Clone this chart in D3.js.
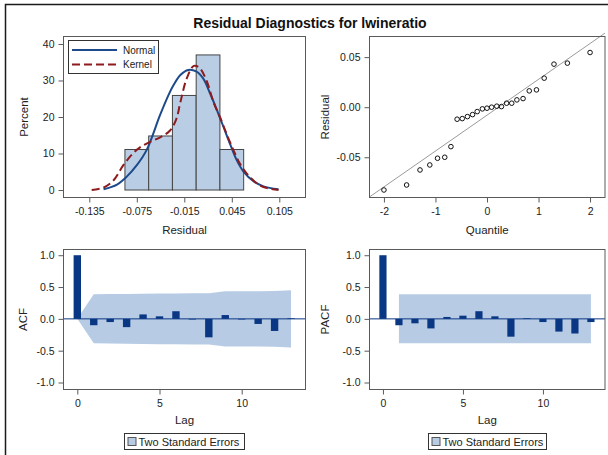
<!DOCTYPE html>
<html>
<head>
<meta charset="utf-8">
<script src="https://cdn.jsdelivr.net/npm/d3@7"></script>
<style>
  body { margin: 0; background: #fff; }
  svg { display: block; font-family: "Liberation Sans", Arial, sans-serif; }
</style>
</head>
<body>
<svg id="chart" width="608" height="455"></svg>
<script>
// ---- data ----
const histCenters = [-0.075, -0.045, -0.015, 0.015, 0.045];
const histPercent = [11.1, 14.8, 25.9, 37.0, 11.1];
const histBinWidth = 0.03;

const normalCurve = [
  [-0.117, 0.2], [-0.100, 1.5], [-0.088, 3.6], [-0.075, 6.8], [-0.0625, 11.0],
  [-0.0457, 20.5], [-0.035, 26.0], [-0.0289, 28.6], [-0.020, 31.5], [-0.010, 32.9],
  [0.000, 32.5], [0.009, 30.5], [0.0175, 26.5], [0.026, 22.0], [0.0343, 17.4],
  [0.043, 12.5], [0.0512, 8.2], [0.060, 5.0], [0.072, 2.5], [0.085, 1.0], [0.104, 0.2]
];
const kernelCurve = [
  [-0.132, 0.0], [-0.118, 0.6], [-0.105, 2.5], [-0.092, 6.8], [-0.080, 10.0],
  [-0.071, 11.7], [-0.058, 13.2], [-0.045, 14.5], [-0.033, 16.3], [-0.025, 19.5],
  [-0.020, 24.0], [-0.012, 30.5], [-0.003, 34.0], [0.004, 33.5], [0.013, 30.0],
  [0.022, 24.0], [0.030, 20.0], [0.040, 14.5], [0.047, 11.0], [0.055, 7.3],
  [0.064, 4.5], [0.080, 1.3], [0.092, 0.4], [0.104, 0.0]
];

const qqQuantiles = [
  -2.00, -1.56, -1.30, -1.11, -0.96, -0.82, -0.70, -0.58, -0.48, -0.38, -0.28, -0.19, -0.09, 0.00,
  0.09, 0.19, 0.28, 0.38, 0.48, 0.58, 0.70, 0.82, 0.96, 1.11, 1.30, 1.56, 2.00
];
const qqResiduals = [
  -0.0827, -0.0777, -0.0627, -0.0577, -0.0510, -0.0500, -0.0394, -0.0120, -0.0114, -0.0094,
  -0.0074, -0.0044, -0.0017, -0.0010, 0.0000, 0.0010, 0.0006, 0.0040, 0.0040, 0.0073,
  0.0086, 0.0163, 0.0173, 0.0290, 0.0430, 0.0440, 0.0546
];
const qqRefLine = { intercept: -0.008, slope: 0.0358 };

const lags = [0, 1, 2, 3, 4, 5, 6, 7, 8, 9, 10, 11, 12, 13];
const acfValues = [1.0, -0.10, -0.05, -0.13, 0.07, 0.04, 0.12, -0.01, -0.29, 0.06, -0.01, -0.08, -0.19, 0.01];
const acfBand = [0, 0.385, 0.389, 0.390, 0.396, 0.398, 0.399, 0.404, 0.404, 0.434, 0.435, 0.435, 0.437, 0.449];
const pacfValues = [1.0, -0.10, -0.07, -0.15, 0.03, 0.05, 0.12, 0.04, -0.28, 0.01, -0.05, -0.20, -0.23, -0.05];
const pacfBand = 0.385;

const histXTicks = [-0.135, -0.075, -0.015, 0.045, 0.105];
const histXLabels = ["-0.135", "-0.075", "-0.015", "0.045", "0.105"];
const histYTicks = [0, 10, 20, 30, 40];
const qqXTicks = [-2, -1, 0, 1, 2];
const qqYTicks = [-0.05, 0, 0.05];
const qqYLabels = ["-0.05", "0.00", "0.05"];
const corrYTicks = [-1, -0.5, 0, 0.5, 1];
const corrYLabels = ["-1.0", "-0.5", "0.0", "0.5", "1.0"];
const lagTicks = [0, 5, 10];

// ---- styling ----
const colors = {
  frame: "#5a5a5a",
  tick: "#5a5a5a",
  text: "#222",
  histFill: "#b9cde5",
  histStroke: "#454545",
  normal: "#1d4a8a",
  kernel: "#8e1b1e",
  qqLine: "#9a9a9a",
  bar: "#0a3783",
  band: "#b7cbe5"
};

const panels = {
  hist: { x0: 63.5, x1: 305.5, y0: 36.5, y1: 197.5 },
  qq: { x0: 369.5, x1: 605, y0: 36.5, y1: 197.5 },
  acf: { x0: 63.5, x1: 305.5, y0: 249.5, y1: 389.5 },
  pacf: { x0: 369.5, x1: 605, y0: 249.5, y1: 389.5 }
};

const svg = d3.select("#chart");

// outer frame (only top and left visible in the crop)
svg.append("path")
  .attr("d", "M5.5,455 V4.5 H608")
  .attr("fill", "none")
  .attr("stroke", "#1a1a1a")
  .attr("stroke-width", 1.5);

svg.append("text")
  .attr("x", 310)
  .attr("y", 28)
  .attr("text-anchor", "middle")
  .attr("font-size", 14)
  .attr("font-weight", "bold")
  .attr("fill", "#111")
  .text("Residual Diagnostics for lwineratio");

function styleAxis(g) {
  g.select(".domain").remove();
  g.selectAll(".tick line").attr("stroke", colors.tick);
  g.selectAll(".tick text").attr("fill", colors.text).attr("font-size", 10.5);
}

function drawFrame(p) {
  svg.append("rect")
    .attr("x", p.x0)
    .attr("y", p.y0)
    .attr("width", p.x1 - p.x0)
    .attr("height", p.y1 - p.y0)
    .attr("fill", "none")
    .attr("stroke", colors.frame);
}

function drawAxes(p, x, y, xt, xl, yt, yl, xTitle, yTitle, yTitleX) {
  svg.append("g")
    .attr("transform", `translate(0,${p.y1})`)
    .call(d3.axisBottom(x).tickValues(xt).tickSize(5).tickPadding(5)
      .tickFormat((d, i) => xl[i]))
    .call(styleAxis);

  svg.append("g")
    .attr("transform", `translate(${p.x0},0)`)
    .call(d3.axisLeft(y).tickValues(yt).tickSize(5).tickPadding(4)
      .tickFormat((d, i) => yl[i]))
    .call(styleAxis);

  svg.append("text")
    .attr("x", (p.x0 + p.x1) / 2)
    .attr("y", p.y1 + (xTitle === "Lag" ? 34.5 : 36))
    .attr("text-anchor", "middle")
    .attr("font-size", 11.5)
    .attr("fill", colors.text)
    .text(xTitle);

  svg.append("text")
    .attr("transform", `translate(${yTitleX},${(p.y0 + p.y1) / 2}) rotate(-90)`)
    .attr("text-anchor", "middle")
    .attr("font-size", 11.5)
    .attr("fill", colors.text)
    .text(yTitle);
}

// ---- histogram panel ----
{
  const p = panels.hist;
  const x = d3.scaleLinear().domain([-0.1676, 0.1381]).range([p.x0, p.x1]);
  const y = d3.scaleLinear().domain([-2.05, 42.05]).range([p.y1, p.y0]);

  svg.append("g")
    .selectAll("rect")
    .data(histCenters)
    .join("rect")
    .attr("x", (d) => x(d - histBinWidth / 2))
    .attr("width", (d) => x(d + histBinWidth / 2) - x(d - histBinWidth / 2))
    .attr("y", (d, i) => y(histPercent[i]))
    .attr("height", (d, i) => y(0) - y(histPercent[i]))
    .attr("fill", colors.histFill)
    .attr("stroke", colors.histStroke)
    .attr("stroke-width", 1);

  const line = d3.line()
    .x((d) => x(d[0]))
    .y((d) => y(d[1]))
    .curve(d3.curveCatmullRom);

  svg.append("path")
    .attr("d", line(normalCurve))
    .attr("fill", "none")
    .attr("stroke", colors.normal)
    .attr("stroke-width", 2);

  svg.append("path")
    .attr("d", line(kernelCurve))
    .attr("fill", "none")
    .attr("stroke", colors.kernel)
    .attr("stroke-width", 2)
    .attr("stroke-dasharray", "8,4");

  drawFrame(p);
  drawAxes(p, x, y, histXTicks, histXLabels, histYTicks, histYTicks.map(String),
    "Residual", "Percent", 28);

  // inset legend
  const lg = svg.append("g");
  lg.append("rect")
    .attr("x", 68.5).attr("y", 40.5).attr("width", 90).attr("height", 33)
    .attr("fill", "#fff").attr("stroke", "#333");
  const items = [
    { label: "Normal", color: colors.normal, dash: null, y: 50 },
    { label: "Kernel", color: colors.kernel, dash: "8,4", y: 64.5 }
  ];
  items.forEach((it) => {
    lg.append("line")
      .attr("x1", 72).attr("x2", 117).attr("y1", it.y).attr("y2", it.y)
      .attr("stroke", it.color).attr("stroke-width", 2)
      .attr("stroke-dasharray", it.dash);
    lg.append("text")
      .attr("x", 123).attr("y", it.y + 3.5)
      .attr("font-size", 10).attr("fill", colors.text)
      .text(it.label);
  });
}

// ---- QQ panel ----
{
  const p = panels.qq;
  const x = d3.scaleLinear().domain([-2.28, 2.29]).range([p.x0, p.x1]);
  const y = d3.scaleLinear().domain([-0.0902, 0.0706]).range([p.y1, p.y0]);

  const [qa, qb] = x.domain();
  svg.append("line")
    .attr("x1", x(qa)).attr("y1", y(qqRefLine.intercept + qqRefLine.slope * qa))
    .attr("x2", x(qb)).attr("y2", y(qqRefLine.intercept + qqRefLine.slope * qb))
    .attr("stroke", colors.qqLine)
    .attr("stroke-width", 1);

  svg.append("g")
    .selectAll("circle")
    .data(qqQuantiles)
    .join("circle")
    .attr("cx", (d) => x(d))
    .attr("cy", (d, i) => y(qqResiduals[i]))
    .attr("r", 2.3)
    .attr("fill", "none")
    .attr("stroke", "#111")
    .attr("stroke-width", 1);

  drawFrame(p);
  drawAxes(p, x, y, qqXTicks, qqXTicks.map(String), qqYTicks, qqYLabels,
    "Quantile", "Residual", 329);
}

// ---- ACF / PACF panels ----
function drawCorrPanel(p, values, bandArea, yTitle, yTitleX, legendX, legendW) {
  const x = d3.scaleLinear().domain([-0.84, 13.88]).range([p.x0, p.x1]);
  const y = d3.scaleLinear().domain([-1.11, 1.09]).range([p.y1, p.y0]);

  svg.append("path")
    .attr("d", bandArea(x, y))
    .attr("fill", colors.band);

  const barW = x(0.45) - x(0);
  svg.append("g")
    .selectAll("rect")
    .data(lags)
    .join("rect")
    .attr("x", (d) => x(d) - barW / 2)
    .attr("width", barW)
    .attr("y", (d, i) => y(Math.max(0, values[i])))
    .attr("height", (d, i) => Math.abs(y(values[i]) - y(0)))
    .attr("fill", colors.bar);

  svg.append("line")
    .attr("x1", p.x0).attr("x2", p.x1)
    .attr("y1", y(0)).attr("y2", y(0))
    .attr("stroke", colors.bar)
    .attr("stroke-width", 1);

  drawFrame(p);
  drawAxes(p, x, y, lagTicks, lagTicks.map(String), corrYTicks, corrYLabels,
    "Lag", yTitle, yTitleX);

  const lg = svg.append("g");
  lg.append("rect")
    .attr("x", legendX).attr("y", 433.5).attr("width", legendW).attr("height", 16)
    .attr("fill", "#fff").attr("stroke", "#333");
  lg.append("rect")
    .attr("x", legendX + 3.5).attr("y", 437.5).attr("width", 8).attr("height", 8)
    .attr("fill", colors.band).attr("stroke", "#555");
  lg.append("text")
    .attr("x", legendX + 14).attr("y", 445.5)
    .attr("font-size", 11).attr("fill", colors.text)
    .text("Two Standard Errors");
}

drawCorrPanel(panels.acf, acfValues, (x, y) =>
  d3.area()
    .x((d) => x(d))
    .y0((d, i) => y(-acfBand[i]))
    .y1((d, i) => y(acfBand[i]))(lags),
  "ACF", 27, 124.5, 120);

drawCorrPanel(panels.pacf, pacfValues, (x, y) =>
  d3.area()
    .x((d) => x(d))
    .y0(() => y(-pacfBand))
    .y1(() => y(pacfBand))(lags.slice(1)),
  "PACF", 329, 428.5, 118);
</script>
</body>
</html>
